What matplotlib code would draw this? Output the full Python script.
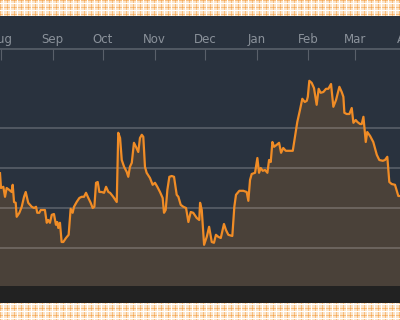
import numpy as np
import matplotlib
matplotlib.use("Agg")
import matplotlib.pyplot as plt
import matplotlib.dates as mdates
from matplotlib.patches import Rectangle
from datetime import datetime

# days counted from 1 Aug 2016, values in arbitrary units
days = [-0.6, 0.0, 1.4, 2.4, 3.4, 5.0, 6.4, 7.0, 7.8, 8.8, 9.4, 11.0, 12.4, 13.8, 14.8,
        16.3, 18.4, 19.8, 21.0, 21.7, 22.9, 23.8, 26.3, 27.4, 28.3, 29.3, 30.4, 31.7,
        32.9, 33.7, 34.3, 35.3, 36.3, 37.3, 38.9, 40.5, 41.7, 42.9, 43.7, 45.3, 46.9,
        48.3, 49.7, 50.9, 52.3, 53.7, 54.9, 55.9, 56.9, 57.9, 58.9, 60.3, 61.7, 62.9,
        64.3, 65.3, 67.2, 69.3, 70.2, 71.3, 72.3, 73.7, 75.3, 76.2, 77.2, 78.3, 79.6,
        80.8, 82.2, 83.2, 84.3, 85.2, 86.2, 87.2, 89.2, 90.8, 92.2, 93.6, 95.2, 96.8,
        97.6, 98.6, 99.6, 100.8, 102.2, 103.6, 105.2, 106.2, 107.6, 109.2, 110.8, 112.2,
        113.6, 115.1, 117.2, 118.7, 119.2, 120.2, 121.6, 123.2, 124.6, 126.2, 127.5,
        128.7, 130.1, 131.6, 133.5, 134.7, 136.1, 138.5, 139.7, 140.7, 142.7, 145.1,
        147.1, 148.1, 149.1, 150.1, 152.1, 153.5, 154.5, 155.5, 156.7, 158.1, 159.5,
        160.5, 161.5, 162.5, 163.5, 165.1, 166.5, 167.7, 169.0, 170.5, 172.0, 174.7,
        176.0, 177.4, 179.0, 180.4, 181.9, 183.1, 183.7, 184.6, 186.0, 187.4, 189.0,
        190.2, 191.4, 193.0, 194.6, 196.0, 197.6, 199.0, 200.6, 202.6, 204.0, 205.0,
        205.6, 207.0, 208.6, 210.0, 211.0, 212.4, 213.4, 215.0, 216.0, 217.0, 218.4,
        219.3, 221.0, 222.9, 225.0, 226.5, 228.6, 229.9, 231.3, 232.5, 233.9, 235.9,
        237.9, 238.9]
values = [58.7, 55.0, 55.3, 52.8, 55.0, 54.5, 54.0, 55.8, 51.5, 51.3, 47.8, 48.8, 50.3,
          52.8, 54.0, 51.3, 50.3, 50.0, 50.3, 48.8, 48.8, 49.5, 49.5, 46.3, 47.0, 46.3,
          48.3, 48.5, 45.8, 46.5, 45.0, 46.3, 41.5, 41.5, 42.5, 43.3, 49.8, 48.8, 50.3,
          51.5, 52.5, 52.8, 52.8, 53.8, 52.5, 51.3, 50.0, 50.3, 56.3, 56.5, 54.0, 54.0,
          53.8, 55.3, 54.0, 53.8, 52.8, 51.5, 68.8, 67.5, 62.0, 60.3, 59.0, 57.8, 60.3,
          61.3, 66.3, 65.3, 64.0, 67.5, 68.3, 67.8, 60.3, 58.8, 57.5, 55.8, 56.3, 55.3,
          54.0, 52.5, 48.8, 49.5, 54.5, 57.8, 58.0, 57.8, 53.3, 52.8, 50.8, 50.3, 50.0,
          46.5, 49.0, 48.8, 47.5, 47.0, 51.3, 49.5, 40.8, 42.8, 45.3, 41.5, 41.3, 43.3,
          42.8, 42.5, 46.0, 44.5, 43.3, 43.0, 50.3, 53.3, 54.3, 54.3, 54.0, 51.8, 57.0,
          58.5, 58.8, 62.5, 58.8, 60.0, 59.3, 59.5, 58.8, 62.0, 61.5, 66.5, 65.3, 65.8,
          66.3, 63.8, 65.0, 64.3, 64.3, 64.3, 67.8, 71.5, 74.5, 77.3, 76.5, 76.8, 77.8,
          81.8, 81.3, 80.0, 75.8, 79.8, 78.8, 79.0, 79.8, 79.8, 81.0, 75.3, 77.0, 80.3,
          79.0, 77.8, 73.8, 73.5, 73.5, 75.0, 71.3, 72.0, 71.5, 71.0, 71.0, 72.8, 66.5,
          69.0, 68.0, 66.5, 63.3, 62.0, 61.8, 62.0, 62.8, 56.5, 56.0, 55.8, 53.0, 53.0]
grid_values = [40, 50, 60, 70]

start = mdates.date2num(datetime(2016, 8, 1))
x = start + np.array(days)
y = np.array(values)

fig = plt.figure(figsize=(4, 3.2), dpi=100)

# soft plaid background pattern
bg = fig.add_axes([0, 0, 1, 1])
H, W = 320, 400
img = np.ones((H, W, 3)) * np.array([252, 228, 200]) / 255
rr, cc = np.mgrid[0:H, 0:W]
orange = np.array([248, 190, 125]) / 255
img[(rr % 7 == 0) | (cc % 7 == 0)] = orange
img[(rr % 7 == 3) | (cc % 7 == 3)] = 1.0
img[(rr % 7 == 0) & (cc % 7 == 0)] = np.array([244, 165, 85]) / 255
bg.imshow(img, aspect="auto", interpolation="nearest")
bg.axis("off")

fig.add_artist(Rectangle((0, 17 / 320), 1, 287 / 320, transform=fig.transFigure,
                         facecolor="#29323e", edgecolor="none", zorder=1))
fig.add_artist(Rectangle((0, 17 / 320), 1, 17 / 320, transform=fig.transFigure,
                         facecolor="#222222", edgecolor="none", zorder=1))

ax = fig.add_axes([0, 34 / 320, 1, 237 / 320])
ax.set_facecolor("none")
ax.set_zorder(2)

ax.fill_between(x, y, 0, color="#4a4139", zorder=1, lw=0)
for g in grid_values:
    ax.axhline(g, color="white", alpha=0.22, lw=1.2, zorder=2)
ax.plot(x, y, color="#f08c26", lw=1.6, zorder=3, solid_joinstyle="round")

ax.set_xlim(start - 0.6, start + 238.9)
ax.set_ylim(30.5, 89.75)

for s in ["bottom", "left", "right"]:
    ax.spines[s].set_visible(False)
ax.spines["top"].set_color("#59606a")
ax.spines["top"].set_linewidth(1.2)
ax.set_yticks([])

ax.xaxis.set_major_locator(mdates.MonthLocator())
ax.xaxis.set_major_formatter(mdates.DateFormatter("%b"))
ax.xaxis.tick_top()
ax.tick_params(axis="x", direction="in", length=8, width=0.8, color="#59606a",
               labelcolor="#8b929b", labelsize=8.5, pad=2.5)
# April starts just past the right edge, only its first letter shows
ax.text(mdates.date2num(datetime(2017, 4, 1)), 1.0 + 3.5 / 237, "Apr", color="#8b929b",
        fontsize=8.5, ha="center", va="bottom", transform=ax.get_xaxis_transform(),
        clip_on=False)

fig.savefig("out.png", dpi=100)
